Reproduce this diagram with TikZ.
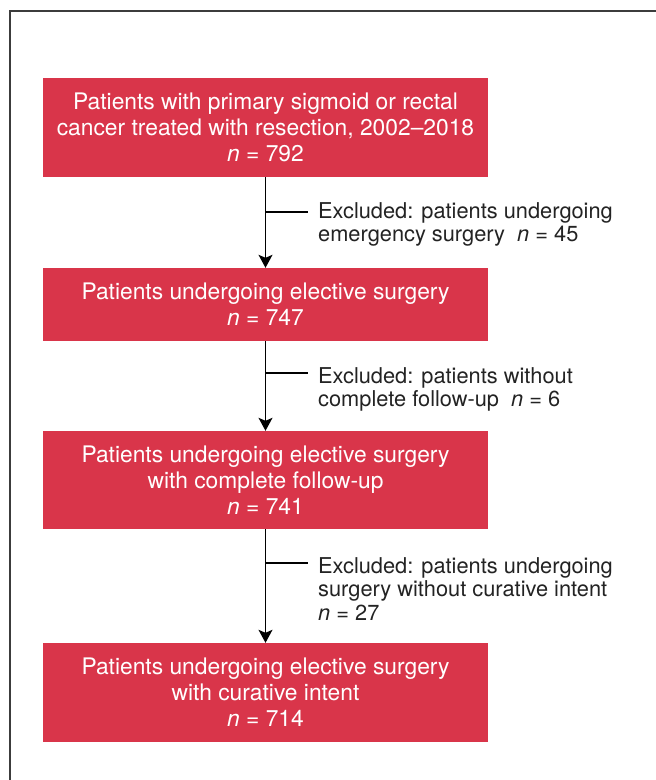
\documentclass[tikz,border=0pt]{standalone}
\usepackage{fontspec}
\setmainfont{TeX Gyre Heros}
\usetikzlibrary{arrows.meta}
\definecolor{boxred}{RGB}{217,53,74}
\definecolor{txtgray}{RGB}{35,35,35}
\definecolor{framegray}{RGB}{60,60,60}
\tikzset{
  stepbox/.style={fill=boxred, draw=none, text=white, minimum width=445pt, inner sep=0pt,
    align=center, font=\fontsize{22.8}{26}\selectfont},
  exlabel/.style={anchor=north west, inner sep=0pt, align=left, text=txtgray,
    font=\fontsize{21.8}{23.5}\selectfont},
  flow/.style={line width=1.2pt, black},
  arr/.style={flow, -{Stealth[length=13pt,width=14pt,inset=3pt]}},
}
\begin{document}
\begin{tikzpicture}[x=1pt,y=1pt]
\useasboundingbox (0,0) rectangle (656,-780);
\fill[white] (0,0) rectangle (656,-780);
\draw[framegray, line width=1.6pt] (10,-780) -- (10,-11) -- (656,-11);

\node[stepbox, minimum height=99pt] (b1) at (265.5,-127.5)
  {Patients with primary sigmoid or rectal\\cancer treated with resection, 2002–2018\\\textit{n} = 792};
\node[stepbox, minimum height=73pt] (b2) at (265.5,-304.5)
  {Patients undergoing elective surgery\\\textit{n} = 747};
\node[stepbox, minimum height=98pt] (b3) at (265.5,-480)
  {Patients undergoing elective surgery\\with complete follow-up\\\textit{n} = 741};
\node[stepbox, minimum height=99pt] (b4) at (265.5,-692.5)
  {Patients undergoing elective surgery\\with curative intent\\\textit{n} = 714};

\draw[arr] (b1.south) -- (b2.north);
\draw[arr] (b2.south) -- (b3.north);
\draw[arr] (b3.south) -- (b4.north);

\node[exlabel] (e1) at (318,-202)
  {Excluded: patients undergoing\\emergency surgery\ \ \textit{n} = 45};
\node[exlabel] (e2) at (318,-367)
  {Excluded: patients without\\complete follow-up\ \ \textit{n} = 6};
\node[exlabel] (e3) at (318,-557)
  {Excluded: patients undergoing\\surgery without curative intent\\\textit{n} = 27};

\coordinate (j1) at (b1.south |- 0,-212);
\coordinate (j2) at (b2.south |- 0,-373);
\coordinate (j3) at (b3.south |- 0,-563);
\draw[flow] (j1) -- ++(42,0);
\draw[flow] (j2) -- ++(42,0);
\draw[flow] (j3) -- ++(42,0);
\end{tikzpicture}
\end{document}
